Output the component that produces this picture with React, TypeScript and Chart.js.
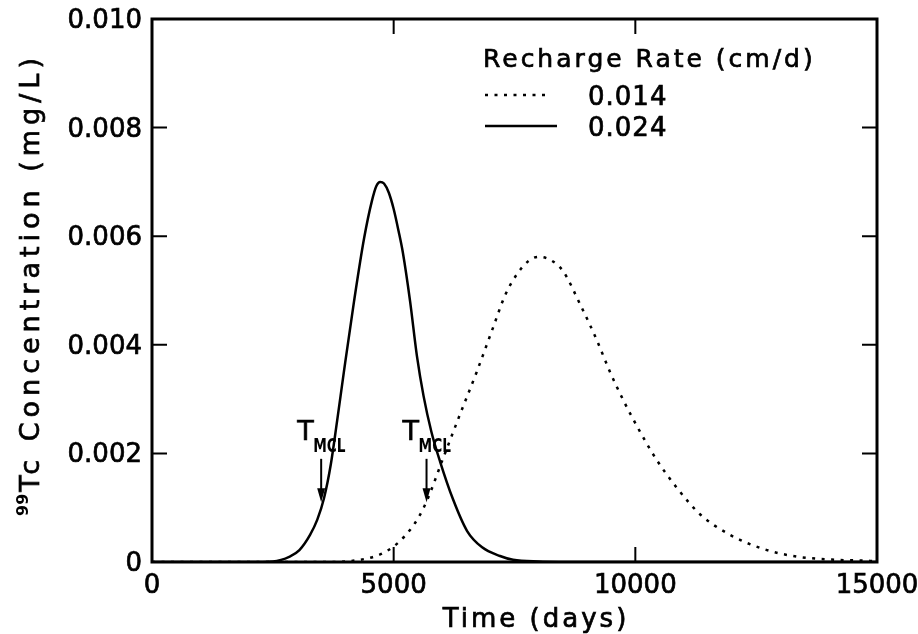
import React, { useEffect, useRef } from "react";
import { Chart, registerables } from "chart.js";

Chart.register(...registerables);

// ---------- data ----------
const rechargeRates = ["0.014", "0.024"];
const legendTitle = "Recharge Rate (cm/d)";
const xTitle = "Time (days)";
const yTitleSup = "99";
const yTitleMain = "Tc Concentration (mg/L)";

const xTickValues = [0, 5000, 10000, 15000];
const xTickLabels = ["0", "5000", "10000", "15000"];
const yTickValues = [0, 0.002, 0.004, 0.006, 0.008, 0.01];
const yTickLabels = ["0", "0.002", "0.004", "0.006", "0.008", "0.010"];

// recharge 0.014 cm/d (dotted)
const time014 = [0, 3500, 4000, 4300, 4600, 4855, 5100, 5338, 5520, 5684, 6027, 6373, 6718, 7062, 7300, 7550, 7800, 8000, 8250, 8510, 8855, 9201, 9476, 9751, 10097, 10442, 10856, 11338, 11959, 12648, 13338, 14166, 14855, 15000];
const conc014 = [0, 0, 0.00001, 0.00004, 0.0001, 0.0002, 0.00036, 0.00059, 0.00083, 0.00112, 0.00192, 0.00272, 0.0035, 0.00433, 0.0049, 0.0053, 0.00555, 0.00562, 0.00556, 0.00535, 0.00475, 0.00409, 0.0035, 0.00298, 0.0024, 0.00188, 0.00137, 0.00088, 0.0005, 0.00024, 0.0001, 0.00004, 0.00002, 0.00001];

// recharge 0.024 cm/d (solid)
const time024 = [0, 2000, 2500, 2850, 3050, 3270, 3420, 3560, 3700, 3830, 3970, 4180, 4390, 4550, 4640, 4720, 4800, 4900, 5000, 5100, 5190, 5340, 5480, 5620, 5780, 5960, 6230, 6520, 6830, 7200, 7470, 8000, 9000, 15000];
const conc024 = [0, 0, 0.00001, 0.0001, 0.00022, 0.0005, 0.00078, 0.00118, 0.0018, 0.0026, 0.0035, 0.0048, 0.00597, 0.00665, 0.00692, 0.0070, 0.00697, 0.0068, 0.0065, 0.0061, 0.0057, 0.0048, 0.0038, 0.00305, 0.0024, 0.00185, 0.00115, 0.00057, 0.00027, 0.00011, 0.00004, 0.00001, 0, 0];

// T_MCL annotation arrows
const mclTimes = [3500, 5680];
const mclArrowFrom = 0.0019;
const mclArrowTo = 0.0011;
const mclMain = "T";
const mclSub = "MCL";

const FONT = '"DejaVu Sans", sans-serif';

function spacedWidth(ctx: any, text: string, spacing: number) {
  ctx.letterSpacing = "0px";
  return ctx.measureText(text).width + spacing * (text.length - 1);
}

function txt(ctx: any, s: string, x: number, y: number, w = 0.7) {
  ctx.fillText(s, x, y);
  ctx.lineWidth = w;
  ctx.strokeText(s, x, y);
}

const decorPlugin = {
  id: "decor",
  afterDraw(chart: any) {
    const { ctx, chartArea: a, scales } = chart;
    const xs = scales.x;
    const ys = scales.y;
    ctx.save();
    ctx.strokeStyle = "#000";
    ctx.fillStyle = "#000";
    ctx.lineCap = "butt";
    ctx.lineJoin = "miter";

    // inward ticks on all four sides
    ctx.lineWidth = 2;
    ctx.beginPath();
    xTickValues.forEach((v) => {
      const px = xs.getPixelForValue(v);
      if (px > a.left + 2 && px < a.right - 2) {
        ctx.moveTo(px, a.bottom);
        ctx.lineTo(px, a.bottom - 15);
        ctx.moveTo(px, a.top);
        ctx.lineTo(px, a.top + 15);
      }
    });
    yTickValues.forEach((v) => {
      const py = ys.getPixelForValue(v);
      if (py > a.top + 2 && py < a.bottom - 2) {
        ctx.moveTo(a.left, py);
        ctx.lineTo(a.left + 15, py);
        ctx.moveTo(a.right, py);
        ctx.lineTo(a.right - 15, py);
      }
    });
    ctx.stroke();

    // frame
    ctx.lineWidth = 3;
    ctx.strokeRect(a.left, a.top, a.right - a.left, a.bottom - a.top);

    // tick labels
    ctx.letterSpacing = "0px";
    ctx.font = `26px ${FONT}`;
    ctx.textBaseline = "alphabetic";
    ctx.textAlign = "center";
    xTickValues.forEach((v, i) => {
      txt(ctx, xTickLabels[i], xs.getPixelForValue(v), a.bottom + 31);
    });
    ctx.textAlign = "right";
    yTickValues.forEach((v, i) => {
      txt(ctx, yTickLabels[i], a.left - 10, ys.getPixelForValue(v) + 9);
    });

    // T_MCL annotations
    mclTimes.forEach((t) => {
      const ax = xs.getPixelForValue(t);
      const y0 = ys.getPixelForValue(mclArrowFrom);
      const y1 = ys.getPixelForValue(mclArrowTo);
      ctx.lineWidth = 2;
      ctx.beginPath();
      ctx.moveTo(ax, y0);
      ctx.lineTo(ax, y1 - 10);
      ctx.stroke();
      ctx.beginPath();
      ctx.moveTo(ax, y1);
      ctx.lineTo(ax - 4, y1 - 14);
      ctx.lineTo(ax + 4, y1 - 14);
      ctx.closePath();
      ctx.fill();
      ctx.textAlign = "left";
      ctx.textBaseline = "alphabetic";
      ctx.letterSpacing = "0px";
      ctx.font = `27px ${FONT}`;
      txt(ctx, mclMain, ax - 24, y0 - 19);
      ctx.save();
      ctx.translate(ax - 8, y0 - 7);
      ctx.scale(0.72, 1);
      ctx.font = `bold 19px ${FONT}`;
      ctx.fillText(mclSub, 0, 0);
      ctx.restore();
    });

    // legend
    const lx = a.left + 331;
    ctx.textAlign = "left";
    ctx.textBaseline = "alphabetic";
    ctx.font = `25px ${FONT}`;
    ctx.letterSpacing = "3px";
    txt(ctx, legendTitle, lx, a.top + 48);
    ctx.letterSpacing = "0px";
    const ds = chart.data.datasets;
    const rows = [a.top + 76, a.top + 107];
    ds.forEach((d: any, i: number) => {
      const ry = rows[i];
      const dotted = d.borderDash && d.borderDash.length;
      ctx.save();
      ctx.lineWidth = 2.5;
      ctx.setLineDash(d.borderDash || []);
      ctx.beginPath();
      ctx.moveTo(lx + 2, ry);
      ctx.lineTo(lx + (dotted ? 67 : 74), ry);
      ctx.stroke();
      ctx.restore();
      ctx.font = `26px ${FONT}`;
      ctx.letterSpacing = "1px";
      txt(ctx, d.label, lx + 105, ry + 10);
      ctx.letterSpacing = "0px";
    });

    // x axis title
    ctx.font = `26px ${FONT}`;
    const xsp = 3;
    const xw = spacedWidth(ctx, xTitle, xsp);
    ctx.letterSpacing = `${xsp}px`;
    txt(ctx, xTitle, (a.left + a.right) / 2 + 20 - xw / 2, a.bottom + 65);
    ctx.letterSpacing = "0px";

    // y axis title (rotated, with superscript)
    ctx.save();
    ctx.translate(39, 287);
    ctx.rotate(-Math.PI / 2);
    ctx.font = `bold 16px ${FONT}`;
    const supW = ctx.measureText(yTitleSup).width;
    ctx.font = `27px ${FONT}`;
    const ysp = 5;
    const mainW = spacedWidth(ctx, yTitleMain, ysp);
    const total = supW + 2 + mainW;
    const start = -total / 2;
    ctx.font = `bold 16px ${FONT}`;
    ctx.fillText(yTitleSup, start, -11);
    ctx.font = `27px ${FONT}`;
    ctx.letterSpacing = `${ysp}px`;
    txt(ctx, yTitleMain, start + supW + 2, 0);
    ctx.letterSpacing = "0px";
    ctx.restore();

    ctx.restore();
  },
};

export default function App() {
  const ref = useRef<HTMLCanvasElement | null>(null);

  useEffect(() => {
    if (!ref.current) return;
    const chart = new Chart(ref.current, {
      type: "line",
      data: {
        datasets: [
          {
            label: rechargeRates[0],
            data: time014.map((t, i) => ({ x: t, y: conc014[i] })),
            borderColor: "#000",
            borderWidth: 2.5,
            borderDash: [3, 6.5],
            pointRadius: 0,
            fill: false,
            cubicInterpolationMode: "monotone",
          },
          {
            label: rechargeRates[1],
            data: time024.map((t, i) => ({ x: t, y: conc024[i] })),
            borderColor: "#000",
            borderWidth: 2.5,
            pointRadius: 0,
            fill: false,
            cubicInterpolationMode: "monotone",
          },
        ],
      },
      options: {
        animation: false,
        responsive: false,
        maintainAspectRatio: false,
        events: [],
        layout: { padding: { left: 0, right: 41, top: 19, bottom: 0 } },
        plugins: {
          legend: { display: false },
          tooltip: { enabled: false },
          title: { display: false },
        },
        scales: {
          x: {
            type: "linear",
            min: 0,
            max: 15000,
            afterBuildTicks: (s: any) => {
              s.ticks = xTickValues.map((v) => ({ value: v }));
            },
            afterFit: (s: any) => {
              s.height = 72;
            },
            ticks: { display: false },
            grid: { display: false, drawTicks: false },
            border: { display: false },
          },
          y: {
            type: "linear",
            min: 0,
            max: 0.01,
            afterBuildTicks: (s: any) => {
              s.ticks = yTickValues.map((v) => ({ value: v }));
            },
            afterFit: (s: any) => {
              s.width = 152;
            },
            ticks: { display: false },
            grid: { display: false, drawTicks: false },
            border: { display: false },
          },
        },
      },
      plugins: [decorPlugin],
    } as any);
    return () => chart.destroy();
  }, []);

  return (
    <div style={{ position: "fixed", left: 0, top: 0, width: 918, height: 634, background: "#fff" }}>
      <canvas ref={ref} width={918} height={634} />
    </div>
  );
}
